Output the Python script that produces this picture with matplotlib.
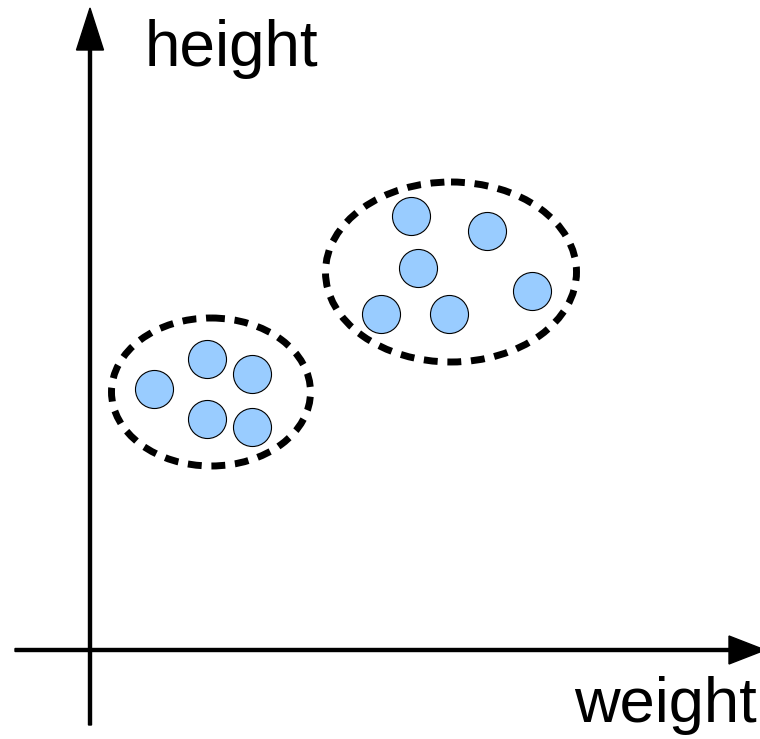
import matplotlib.pyplot as plt
from matplotlib.patches import Ellipse

# Punkte (Pixelkoordinaten des Bildes)
group_a_x = [154, 207, 252, 207, 252]
group_a_y = [389, 359, 374, 419, 427]
group_b_x = [411, 487, 418, 532, 381, 449]
group_b_y = [216, 231, 268, 291, 314, 314]

# Cluster-Ellipsen: Mitte x, Mitte y, Breite, Hoehe
ell_cx = [211, 451]
ell_cy = [392, 272]
ell_w = [199, 251]
ell_h = [148, 180]

axis_labels = ['weight', 'height']

fig = plt.figure(figsize=(7.6, 7.39), dpi=100)
ax = fig.add_axes([0, 0, 1, 1])
ax.set_xlim(0, 760)
ax.set_ylim(739, 0)
ax.axis('off')

# Achsen mit Pfeilspitzen
ax.arrow(15, 650, 750, 0, width=3, head_width=28, head_length=36,
         length_includes_head=True, color='black')
ax.arrow(90, 725, 0, -717, width=3, head_width=27, head_length=42,
         length_includes_head=True, color='black')

ax.text(757, 722, axis_labels[0], fontsize=45.5, family='Liberation Sans',
        ha='right', va='baseline')
ax.text(145, 66, axis_labels[1], fontsize=46, family='Liberation Sans',
        ha='left', va='baseline')

# gestrichelte Ellipsen
for cx, cy, w, h in zip(ell_cx, ell_cy, ell_w, ell_h):
    ax.add_patch(Ellipse((cx, cy), w, h, fill=False, edgecolor='black',
                         linewidth=5, linestyle=(0, (2.0, 1.4))))

ax.scatter(group_a_x + group_b_x, group_a_y + group_b_y, s=750,
           color='#99ccff', edgecolor='black', linewidth=0.8, zorder=3)

fig.savefig('out.png', dpi=100)
